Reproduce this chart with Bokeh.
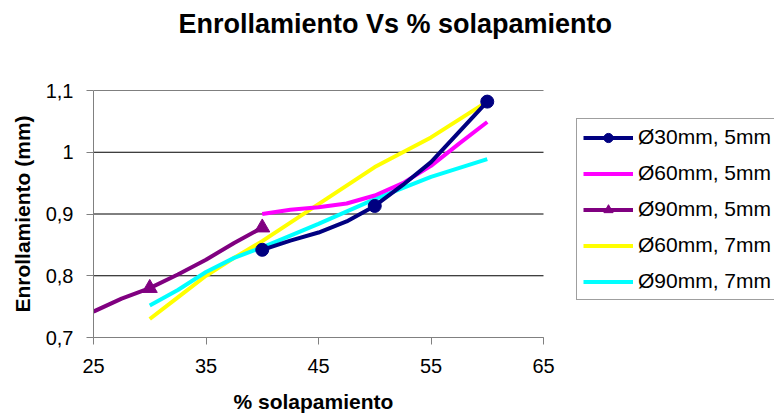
from bokeh.plotting import figure
from bokeh.models import Range1d, FixedTicker, Legend, LegendItem, Title
from bokeh.embed import file_html
from bokeh.resources import INLINE

# ---- data ----
x_ticks = [25, 35, 45, 55, 65]
y_ticks = [0.7, 0.8, 0.9, 1.0, 1.1]
y_tick_labels = ["0,7", "0,8", "0,9", "1", "1,1"]

s30_5_x = [40, 42.5, 45, 47.5, 50, 52.5, 55, 57.5, 60]
s30_5_y = [0.842, 0.857, 0.870, 0.888, 0.913, 0.947, 0.984, 1.033, 1.082]
s30_5_mx = [40, 50, 60]
s30_5_my = [0.842, 0.913, 1.082]

s60_5_x = [40, 42.5, 45, 47.5, 50, 52.5, 55, 57.5, 60]
s60_5_y = [0.900, 0.907, 0.911, 0.917, 0.930, 0.950, 0.978, 1.014, 1.049]

s90_5_x = [25, 27.5, 30, 32.5, 35, 37.5, 40]
s90_5_y = [0.742, 0.763, 0.780, 0.802, 0.826, 0.853, 0.878]
s90_5_mx = [30, 40]
s90_5_my = [0.780, 0.878]

s60_7_x = [30, 32.5, 35, 37.5, 40, 45, 50, 55, 60]
s60_7_y = [0.730, 0.765, 0.800, 0.829, 0.856, 0.916, 0.976, 1.024, 1.082]

s90_7_x = [30, 32.5, 35, 37.5, 40, 45, 50, 55, 60]
s90_7_y = [0.752, 0.777, 0.806, 0.829, 0.846, 0.884, 0.924, 0.960, 0.989]

labels = ["Ø30mm, 5mm", "Ø60mm, 5mm", "Ø90mm, 5mm", "Ø60mm, 7mm", "Ø90mm, 7mm"]
colors = ["#000080", "#FF00FF", "#800080", "#FFFF00", "#00FFFF"]

FONT = "Liberation Sans"

# layout (pixels)
W, H = 774, 419
LEFT, TOP, BOTTOM = 93, 90, 82
PLOT_W = 450          # width of the 25..65 axis span
EXTRA_W = W - LEFT - PLOT_W   # room on the right that holds the legend

x0, x1 = x_ticks[0], x_ticks[-1]
x_end = x1 + EXTRA_W * (x1 - x0) / PLOT_W

p = figure(width=W, height=H, output_backend="svg", toolbar_location=None,
           x_range=Range1d(x0, x_end), y_range=Range1d(y_ticks[0], y_ticks[-1]),
           min_border_left=LEFT, min_border_right=0,
           min_border_top=TOP, min_border_bottom=BOTTOM)
p.outline_line_color = None
p.background_fill_color = "white"
p.border_fill_color = "white"

# title
p.title.text = "Enrollamiento Vs % solapamiento"
p.title.text_font = FONT
p.title.text_font_size = "27px"
p.title.text_font_style = "bold"
p.title.text_color = "black"
p.title.align = "left"
p.title.offset = 85
p.title.vertical_align = "top"
p.title.standoff = 0
p.title.padding = dict(left=0, right=0, top=0, bottom=50)

# axes
p.xaxis.ticker = FixedTicker(ticks=x_ticks)
p.xaxis.bounds = (x0, x1)
p.yaxis.ticker = FixedTicker(ticks=y_ticks)
p.yaxis.major_label_overrides = dict(zip(y_ticks, y_tick_labels))
for ax in (p.xaxis[0], p.yaxis[0]):
    ax.axis_line_color = "#808080"
    ax.major_tick_line_color = "#808080"
    ax.major_tick_out = 7
    ax.major_tick_in = 0
    ax.minor_tick_out = 0
    ax.minor_tick_in = 0
    ax.major_label_text_font = FONT
    ax.major_label_text_font_size = "20px"
    ax.major_label_text_color = "black"
    ax.axis_label_text_font = FONT
    ax.axis_label_text_font_style = "bold"
    ax.axis_label_text_font_size = "21px"
    ax.axis_label_text_color = "black"
p.yaxis.axis_label = "Enrollamiento (mm)"
p.xaxis.major_label_standoff = 14
p.yaxis.major_label_standoff = 13
p.yaxis.axis_label_standoff = 9

# x-axis label, centred under the 25..65 span
xlabel = Title(text="% solapamiento", text_font=FONT, text_font_size="21px",
               text_font_style="bold", text_color="black",
               align="left", offset=140, vertical_align="top", standoff=0,
               padding=dict(left=0, right=0, top=14, bottom=0))
p.add_layout(xlabel, "below")

# horizontal gridlines only across the 25..65 span
p.xgrid.grid_line_color = None
p.ygrid.grid_line_color = None
p.segment(x0=[x0] * len(y_ticks), y0=y_ticks, x1=[x1] * len(y_ticks), y1=y_ticks,
          line_color="#000000", line_width=1)

LW = 4
r_60_7 = p.line(s60_7_x, s60_7_y, color=colors[3], line_width=LW)
r_90_7 = p.line(s90_7_x, s90_7_y, color=colors[4], line_width=LW)
r_60_5 = p.line(s60_5_x, s60_5_y, color=colors[1], line_width=LW)
r_90_5 = p.line(s90_5_x, s90_5_y, color=colors[2], line_width=LW)
r_90_5m = p.scatter(s90_5_mx, s90_5_my, marker="triangle", size=15, color=colors[2])
r_30_5 = p.line(s30_5_x, s30_5_y, color=colors[0], line_width=LW)
r_30_5m = p.scatter(s30_5_mx, s30_5_my, marker="circle", size=13, color=colors[0])

items = [
    LegendItem(label=labels[0], renderers=[r_30_5, r_30_5m]),
    LegendItem(label=labels[1], renderers=[r_60_5]),
    LegendItem(label=labels[2], renderers=[r_90_5, r_90_5m]),
    LegendItem(label=labels[3], renderers=[r_60_7]),
    LegendItem(label=labels[4], renderers=[r_90_7]),
]
legend = Legend(items=items, location=(483, 37), orientation="vertical",
                label_text_font=FONT, label_text_font_size="21px",
                label_text_color="black",
                glyph_width=50, glyph_height=23, label_height=23,
                label_standoff=5, spacing=12, padding=6, margin=0,
                border_line_color="#404040", border_line_width=1,
                background_fill_color="white", background_fill_alpha=1.0)
p.add_layout(legend, "center")

open("out.html", "w").write(file_html(p, INLINE))
